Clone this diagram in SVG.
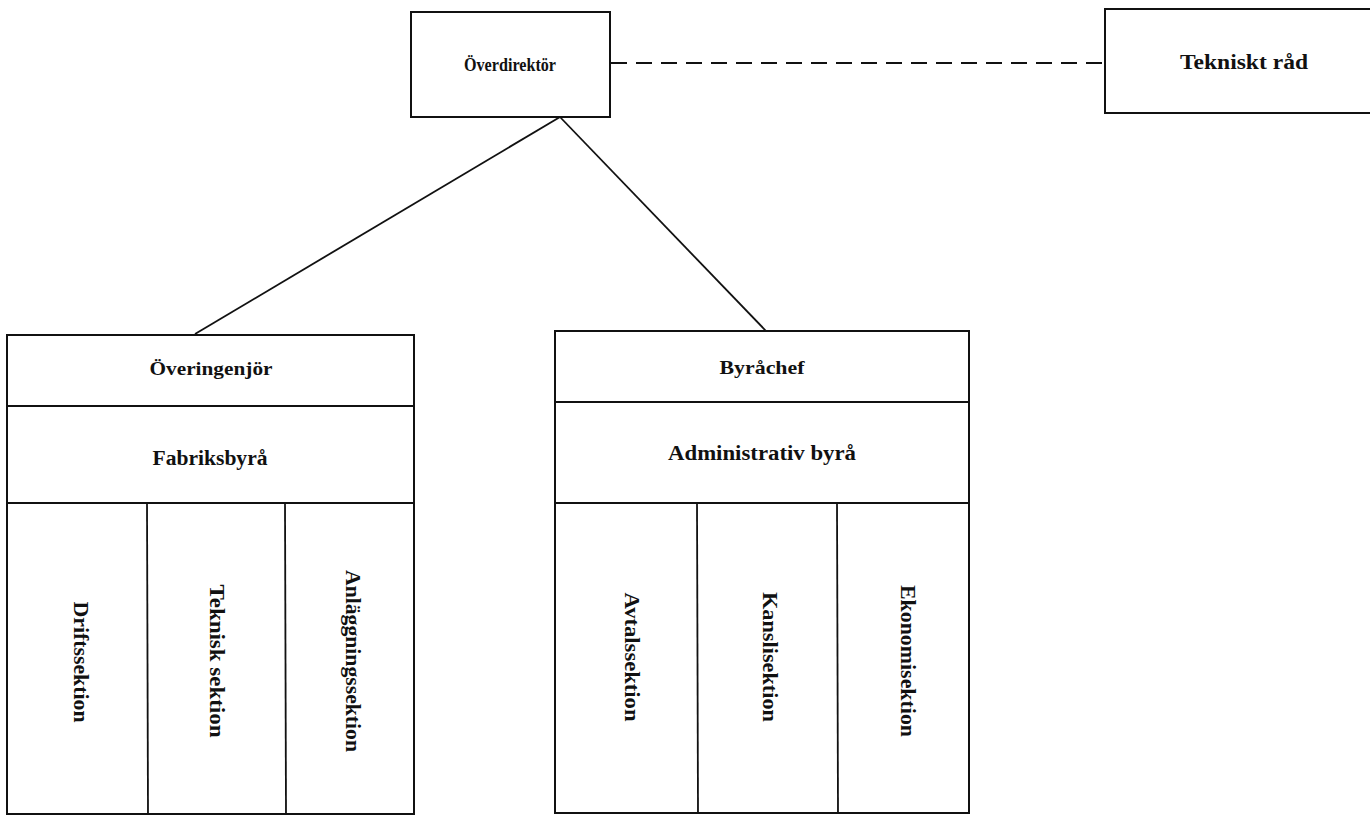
<svg xmlns="http://www.w3.org/2000/svg" width="1370" height="817" viewBox="0 0 1370 817">
<style>
.box{fill:#fff;stroke:#111;stroke-width:2}
.ln{stroke:#111;stroke-width:1.8;fill:none}
.t{font-family:"Liberation Serif",serif;font-weight:bold;fill:#111;text-anchor:middle}
.v{font-family:"Liberation Serif",serif;font-weight:bold;fill:#111;text-anchor:middle;dominant-baseline:central;font-size:20px}
</style>
<rect width="1370" height="817" fill="#fff"/>
<g id="connectors">
<line class="ln" x1="560" y1="117" x2="195" y2="334"/>
<line class="ln" x1="560" y1="117" x2="766" y2="331"/>
<line class="ln" x1="611" y1="63" x2="1105" y2="63" stroke-dasharray="16 9"/>
</g>
<g id="overdirektor">
<rect class="box" x="411" y="12" width="199" height="105"/>
<text class="t" x="510" y="71" font-size="18" textLength="92" lengthAdjust="spacingAndGlyphs">Överdirektör</text>
</g>
<g id="tekniskt-rad">
<rect class="box" x="1105" y="9" width="275" height="104"/>
<text class="t" x="1244" y="69" font-size="20" textLength="128" lengthAdjust="spacingAndGlyphs">Tekniskt råd</text>
</g>
<g id="fabriksbyra">
<rect class="box" x="7" y="335" width="407" height="479"/>
<line class="ln" x1="7" y1="406" x2="414" y2="406"/>
<line class="ln" x1="7" y1="503" x2="414" y2="503"/>
<line class="ln" x1="147" y1="503" x2="148" y2="814"/>
<line class="ln" x1="285" y1="503" x2="286" y2="814"/>
<text class="t" x="211" y="375" font-size="19" textLength="123" lengthAdjust="spacingAndGlyphs">Överingenjör</text>
<text class="t" x="210" y="465" font-size="20" textLength="115" lengthAdjust="spacingAndGlyphs">Fabriksbyrå</text>
<g id="driftssektion"><text class="v" transform="translate(81,662) rotate(90)" textLength="121" lengthAdjust="spacingAndGlyphs">Driftssektion</text></g>
<g id="teknisk-sektion"><text class="v" transform="translate(217,661) rotate(90)" textLength="153" lengthAdjust="spacingAndGlyphs">Teknisk sektion</text></g>
<g id="anlaggningssektion"><text class="v" transform="translate(353,661) rotate(90)" textLength="182" lengthAdjust="spacingAndGlyphs">Anläggningssektion</text></g>
</g>
<g id="administrativ-byra">
<rect class="box" x="555" y="331" width="414" height="482"/>
<line class="ln" x1="555" y1="402" x2="969" y2="402"/>
<line class="ln" x1="555" y1="503" x2="969" y2="503"/>
<line class="ln" x1="697" y1="503" x2="698" y2="813"/>
<line class="ln" x1="837" y1="503" x2="838" y2="813"/>
<text class="t" x="762" y="374" font-size="19" textLength="85" lengthAdjust="spacingAndGlyphs">Byråchef</text>
<text class="t" x="762" y="460" font-size="20" textLength="188" lengthAdjust="spacingAndGlyphs">Administrativ byrå</text>
<g id="avtalssektion"><text class="v" transform="translate(632,657) rotate(90)" textLength="129" lengthAdjust="spacingAndGlyphs">Avtalssektion</text></g>
<g id="kanslisektion"><text class="v" transform="translate(770,657) rotate(90)" textLength="130" lengthAdjust="spacingAndGlyphs">Kanslisektion</text></g>
<g id="ekonomisektion"><text class="v" transform="translate(908,661) rotate(90)" textLength="152" lengthAdjust="spacingAndGlyphs">Ekonomisektion</text></g>
</g>
</svg>
